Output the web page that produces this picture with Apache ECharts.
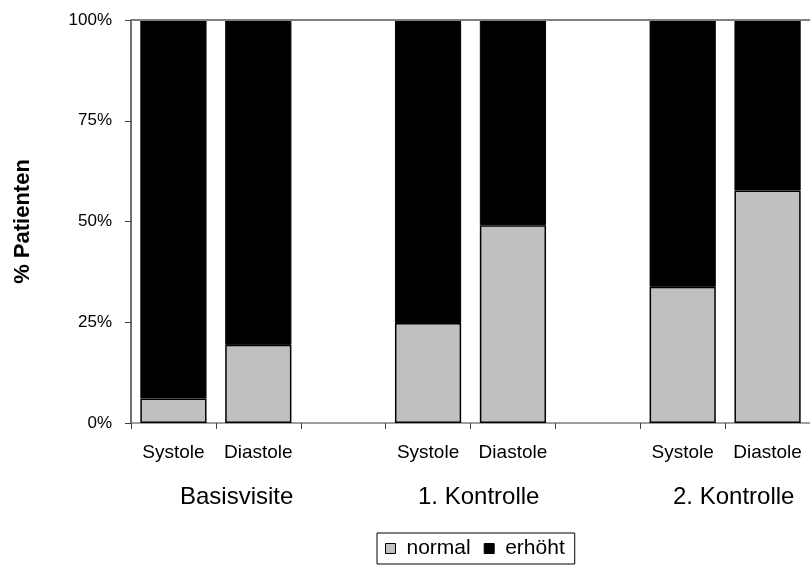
<!DOCTYPE html>
<html><head><meta charset="utf-8">
<script src="https://cdn.jsdelivr.net/npm/echarts@6/dist/echarts.min.js"></script>
<style>html,body{margin:0;padding:0;background:#fff}#c{width:810px;height:571px}</style>
</head><body><div id="c"></div>
<script>
const categories = ['Systole','Diastole','','Systole','Diastole','','Systole','Diastole'];
const groupLabels = ['Basisvisite','1. Kontrolle','2. Kontrolle'];
const normalValues = [6.1, 19.4, null, 24.8, 49.1, null, 33.8, 57.7];
const erhoehtValues = normalValues.map(v => v == null ? null : 100 - v);
const yTicks = [0, 25, 50, 75, 100];

const chart = echarts.init(document.getElementById('c'));
const font = 'Liberation Sans, Arial, sans-serif';
chart.setOption({
  animation: false,
  textStyle: {fontFamily: font},
  grid: {left: 131, right: -7, top: 20, bottom: 148, containLabel: false},
  legend: {
    top: 533, left: 377,
    data: ['normal','erhöht'],
    itemWidth: 10, itemHeight: 10, itemGap: 13,
    icon: 'rect',
    borderColor: '#000', borderWidth: 1, padding: [5, 10, 5, 8],
    itemStyle: {borderColor: '#000', borderWidth: 1},
    textStyle: {fontSize: 21, color: '#000', fontFamily: font, padding: [0,0,0,6]}
  },
  xAxis: {
    type: 'category', data: categories,
    axisLine: {lineStyle: {color: '#808080', width: 1.5}},
    axisTick: {show: true, length: 6, interval: 0, lineStyle: {color: '#404040'}},
    axisLabel: {fontSize: 19, color: '#000', margin: 20, interval: 0, fontFamily: font}
  },
  yAxis: {
    type: 'value', min: 0, max: 100, interval: 25,
    name: '% Patienten', nameLocation: 'middle', nameGap: 97, nameRotate: 90,
    nameTextStyle: {fontSize: 22, fontWeight: 'bold', color: '#000', fontFamily: font},
    axisLine: {show: true, lineStyle: {color: '#404040', width: 1.5}},
    axisTick: {show: true, length: 6, inside: false, lineStyle: {color: '#404040'}},
    splitLine: {show: false},
    axisLabel: {fontSize: 17, color: '#000', margin: 19, fontFamily: font,
      formatter: v => yTicks.includes(v) ? v + '%' : ''}
  },
  series: [
    {name: 'normal', type: 'bar', stack: 's', data: normalValues, barCategoryGap: '22%',
     itemStyle: {color: '#c0c0c0', borderColor: '#000', borderWidth: 1.5},
     markLine: {silent: true, symbol: 'none', label: {show: false},
       lineStyle: {color: '#808080', width: 2, type: 'solid'}, data: [{yAxis: 100}]}},
    {name: 'erhöht', type: 'bar', stack: 's', data: erhoehtValues, barCategoryGap: '22%',
     itemStyle: {color: '#000', borderColor: '#000', borderWidth: 1}}
  ],
  graphic: [
    {type: 'text', left: 180, top: 485, style: {text: groupLabels[0], fill: '#000', font: '24px ' + font}},
    {type: 'text', left: 418, top: 485, style: {text: groupLabels[1], fill: '#000', font: '24px ' + font}},
    {type: 'text', left: 673, top: 485, style: {text: groupLabels[2], fill: '#000', font: '24px ' + font}}
  ]
});
</script></body></html>
